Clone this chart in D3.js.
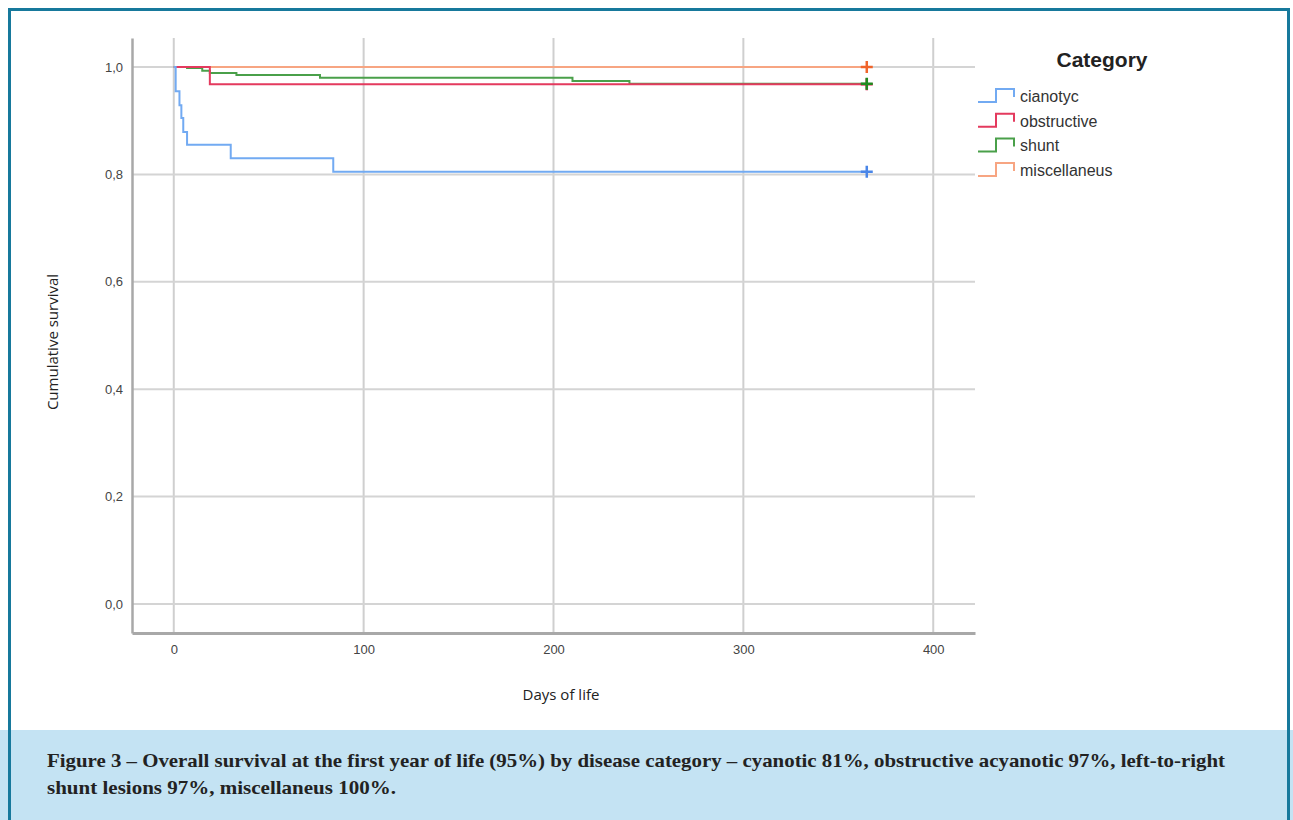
<!DOCTYPE html>
<html><head><meta charset="utf-8">
<script src="https://cdn.jsdelivr.net/npm/d3@7"></script>
<style>
html,body{margin:0;padding:0;background:#fff;}
svg{display:block;}
</style></head>
<body>
<svg id="chart" width="1293" height="820"></svg>
<script>
// ---------- data ----------
const categories = ["cianotyc", "obstructive", "shunt", "miscellaneus"];
const cianotycDays = [0, 1, 3, 4, 5, 7, 30, 84, 365];
const cianotycSurv = [1, 0.955, 0.929, 0.905, 0.879, 0.855, 0.830, 0.805, 0.805];
const obstructiveDays = [0, 19, 365];
const obstructiveSurv = [1, 0.968, 0.968];
const shuntDays = [0, 7, 15, 19, 33, 77, 210, 240, 365];
const shuntSurv = [1, 0.998, 0.993, 0.989, 0.985, 0.980, 0.974, 0.969, 0.969];
const miscDays = [0, 365];
const miscSurv = [1, 1];
const censorDay = 365;
const xTicks = [0, 100, 200, 300, 400];
const yTicks = [0, 0.2, 0.4, 0.6, 0.8, 1.0];
const lineColors = ["#72aaf2", "#e43a5e", "#4aa04a", "#f7a582"];
const markColors = ["#4a86e8", "#d81e48", "#1f8a1f", "#f0642a"];

const series = [
  {name: categories[0], days: cianotycDays, surv: cianotycSurv},
  {name: categories[1], days: obstructiveDays, surv: obstructiveSurv},
  {name: categories[2], days: shuntDays, surv: shuntSurv},
  {name: categories[3], days: miscDays, surv: miscSurv}
];

const svg = d3.select("#chart");

// frame + caption box
svg.append("rect").attr("x", 0).attr("y", 730).attr("width", 1293).attr("height", 90).attr("fill", "#c4e3f3");
svg.append("rect").attr("x", 9.5).attr("y", 9.5).attr("width", 1279).attr("height", 830)
  .attr("fill", "none").attr("stroke", "#17799c").attr("stroke-width", 3);
svg.append("rect").attr("x", 11).attr("y", 730).attr("width", 1276).attr("height", 90).attr("fill", "#c4e3f3");

const x = d3.scaleLinear().domain([-22, 422]).range([132, 975]);
const y = d3.scaleLinear().domain([-0.054, 1.054]).range([633, 38]);

const g = svg.append("g");

// grid
g.selectAll(".vg").data(xTicks).join("line")
  .attr("x1", d => x(d)).attr("x2", d => x(d)).attr("y1", y.range()[1]).attr("y2", y.range()[0])
  .attr("stroke", "#cfcfcf").attr("stroke-width", 2);
g.selectAll(".hg").data(yTicks).join("line")
  .attr("x1", x.range()[0]).attr("x2", x.range()[1]).attr("y1", d => y(d)).attr("y2", d => y(d))
  .attr("stroke", "#d4d4d4").attr("stroke-width", 2);

// axes
const xAxis = d3.axisBottom(x).tickValues(xTicks).tickSize(0).tickPadding(12).tickFormat(d3.format("d"));
const yAxis = d3.axisLeft(y).tickValues(yTicks).tickSize(0).tickPadding(9)
  .tickFormat(d => d3.format(".1f")(d).replace(".", ","));
const gx = g.append("g").attr("transform", `translate(0,${y.range()[0]})`).call(xAxis);
const gy = g.append("g").attr("transform", `translate(${x.range()[0]},0)`).call(yAxis);
[gx, gy].forEach(a => {
  a.select(".domain").attr("stroke", "#a8a8a8").attr("stroke-width", 2.5);
  a.selectAll("text").attr("fill", "#444").style("font-family", "'Liberation Sans', Arial, sans-serif").style("font-size", "13px");
});
gx.select(".domain").attr("stroke-width", 3);

// curves
const line = d3.line().x(d => x(d[0])).y(d => y(d[1])).curve(d3.curveStepAfter);
series.slice().reverse().forEach((s, ri) => {
  const i = series.length - 1 - ri;
  g.append("path").datum(s.days.map((d, k) => [d, s.surv[k]]))
    .attr("fill", "none").attr("stroke", lineColors[i]).attr("stroke-width", 2).attr("d", line);
});
// censor marks
series.forEach((s, i) => {
  const cx = x(censorDay), cy = y(s.surv[s.surv.length - 1]);
  g.append("path").attr("d", `M${cx - 6},${cy}H${cx + 6}M${cx},${cy - 6}V${cy + 6}`)
    .attr("stroke", markColors[i]).attr("stroke-width", 2.5).attr("fill", "none");
});

// axis titles
svg.append("text").attr("x", 561).attr("y", 700).attr("text-anchor", "middle")
  .style("font-family", "'Open Sans', sans-serif").style("font-size", "15px").attr("fill", "#222")
  .text("Days of life");
svg.append("text").attr("transform", "translate(58,342) rotate(-90)").attr("text-anchor", "middle")
  .style("font-family", "'Open Sans', sans-serif").style("font-size", "15px").attr("fill", "#222")
  .text("Cumulative survival");

// legend
svg.append("text").attr("x", 1102).attr("y", 67).attr("text-anchor", "middle")
  .style("font-family", "'Liberation Sans', Arial, sans-serif").style("font-size", "21px").style("font-weight", "bold")
  .attr("fill", "#222").text("Category");
const leg = svg.append("g");
categories.forEach((c, i) => {
  const cy = 97 + i * 24.7;
  leg.append("path").attr("d", `M978,${cy + 5}H996V${cy - 8}H1014V${cy}`)
    .attr("fill", "none").attr("stroke", lineColors[i]).attr("stroke-width", 2);
  leg.append("text").attr("x", 1020).attr("y", cy + 5)
    .style("font-family", "'Liberation Sans', Arial, sans-serif").style("font-size", "16px")
    .attr("fill", "#333").text(c);
});

// caption
const cap1 = "Figure 3 – Overall survival at the first year of life (95%) by disease category – cyanotic 81%, obstructive acyanotic 97%, left-to-right";
const cap2 = "shunt lesions 97%, miscellaneus 100%.";
svg.append("text").attr("x", 47).attr("y", 767)
  .attr("textLength", 1178).attr("lengthAdjust", "spacingAndGlyphs")
  .style("font-family", "'Liberation Serif', serif").style("font-size", "19px").style("font-weight", "bold")
  .attr("fill", "#222").text(cap1);
svg.append("text").attr("x", 47).attr("y", 794)
  .attr("textLength", 349).attr("lengthAdjust", "spacingAndGlyphs")
  .style("font-family", "'Liberation Serif', serif").style("font-size", "19px").style("font-weight", "bold")
  .attr("fill", "#222").text(cap2);
</script>
</body></html>
